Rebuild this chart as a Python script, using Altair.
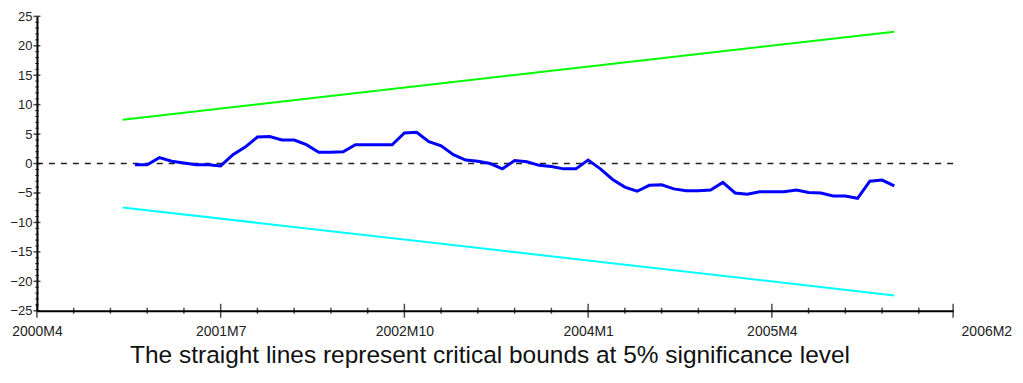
import altair as alt
import pandas as pd

# ---- data ----
months = list(range(8, 71))  # months after 2000M4
cusum = [-0.2, -0.2, 1.0, 0.4, 0.1, -0.2, -0.2, -0.4, 1.5, 2.8,
         4.5, 4.6, 4.0, 4.0, 3.2, 1.9, 1.9, 2.0, 3.2, 3.2,
         3.2, 3.2, 5.2, 5.3, 3.7, 3.0, 1.5, 0.6, 0.4, 0.0,
         -0.9, 0.5, 0.3, -0.3, -0.5, -0.9, -0.9, 0.6, -0.9, -2.7,
         -4.0, -4.7, -3.7, -3.6, -4.3, -4.6, -4.6, -4.5, -3.2, -5.0,
         -5.2, -4.8, -4.8, -4.8, -4.5, -4.9, -5.0, -5.5, -5.5, -5.9,
         -3.0, -2.8, -3.8]
bound_months = [7, 70]
upper_bound = [7.45, 22.4]
lower_bound = [-7.45, -22.4]

AXIS_END = 74.8
major_x = [0, 15, 30, 45, 60, AXIS_END]
major_x_labels = ["2000M4", "2001M7", "2002M10", "2004M1", "2005M4", "2006M2"]
minor_x = [3, 6, 9, 12, 18, 21, 24, 27, 33, 36, 39, 42, 48, 51, 54, 57, 63, 66, 69, 72]
major_y = [-25, -20, -15, -10, -5, 0, 5, 10, 15, 20, 25]
minor_y = [v for v in range(-25, 26) if v % 5 != 0]

W, H = 918, 295
FONT = "Liberation Sans"

cusum_df = pd.DataFrame({"m": months, "v": cusum})
bounds_df = pd.DataFrame({"m": bound_months, "up": upper_bound, "lo": lower_bound})
zero_df = pd.DataFrame({"v": [0]})
mx_df = pd.DataFrame({"m": major_x})
nx_df = pd.DataFrame({"m": minor_x})
my_df = pd.DataFrame({"v": major_y})
ny_df = pd.DataFrame({"v": minor_y})

label_expr = ""
for val, lab in zip(major_x, major_x_labels):
    label_expr += f"abs(datum.value - {val}) < 0.01 ? '{lab}' : "
label_expr += "''"

xscale = alt.Scale(domain=[0, AXIS_END], nice=False, zero=False)
yscale = alt.Scale(domain=[-25, 25], nice=False, zero=False)

xaxis = alt.Axis(
    values=major_x, labelExpr=label_expr, ticks=False, tickSize=0, grid=False,
    title=None, domainColor="black", domainWidth=2, labelFont=FONT,
    labelFontSize=14, labelColor="#222", labelPadding=14, labelFlush=False,
    labelOverlap=False, labelBound=False,
    labelAlign={"condition": {"test": "datum.value >= 74", "value": "left"}, "value": "center"},
    labelOffset={"condition": {"test": "datum.value >= 74", "value": 8}, "value": 0},
)
yaxis = alt.Axis(
    values=major_y, ticks=False, tickSize=0, grid=False, title=None,
    domainColor="black", domainWidth=2, labelFont=FONT, labelFontSize=13,
    labelColor="#222", labelPadding=5, labelFlush=False, labelOverlap=False,
)


def X(f):
    return alt.X(f, type="quantitative", scale=xscale, axis=xaxis)


def Y(f):
    return alt.Y(f, type="quantitative", scale=yscale, axis=yaxis)


zero_line = alt.Chart(zero_df).mark_rule(
    color="#222", strokeWidth=1.5, strokeDash=[6, 6]
).encode(y=Y("v"))

upper_line = alt.Chart(bounds_df).mark_line(color="#00FF00", strokeWidth=2).encode(
    x=X("m"), y=Y("up"))
lower_line = alt.Chart(bounds_df).mark_line(color="#00FFFF", strokeWidth=2).encode(
    x=X("m"), y=Y("lo"))

cusum_line = alt.Chart(cusum_df).mark_line(color="#0000FF", strokeWidth=3).encode(
    x=X("m"), y=Y("v"))

x_major_ticks = alt.Chart(mx_df).mark_tick(
    orient="vertical", size=14, thickness=1.5, color="black"
).encode(x=X("m"), y=alt.value(H))
x_minor_ticks = alt.Chart(nx_df).mark_tick(
    orient="vertical", size=6, thickness=1.5, color="black"
).encode(x=X("m"), y=alt.value(H))
y_major_ticks = alt.Chart(my_df).mark_tick(
    orient="horizontal", size=7, thickness=1.5, color="black"
).encode(y=Y("v"), x=alt.value(0))
y_minor_ticks = alt.Chart(ny_df).mark_tick(
    orient="horizontal", size=4, thickness=1, color="black"
).encode(y=Y("v"), x=alt.value(0))

chart = alt.layer(
    zero_line, upper_line, lower_line, cusum_line,
    x_minor_ticks, x_major_ticks, y_minor_ticks, y_major_ticks,
).properties(
    width=W, height=H,
    autosize=alt.AutoSizeParams(type="none"),
    padding={"left": 29, "top": 8, "right": 62, "bottom": 60},
    title=alt.TitleParams(
        "The straight lines represent critical bounds at 5% significance level",
        orient="bottom", anchor="middle", font=FONT, fontSize=24.5,
        fontWeight="normal", color="#111", offset=5, dx=-5,
    ),
).configure_view(stroke=None)

chart.save("out.html", embed_options={"renderer": "svg", "actions": False})
